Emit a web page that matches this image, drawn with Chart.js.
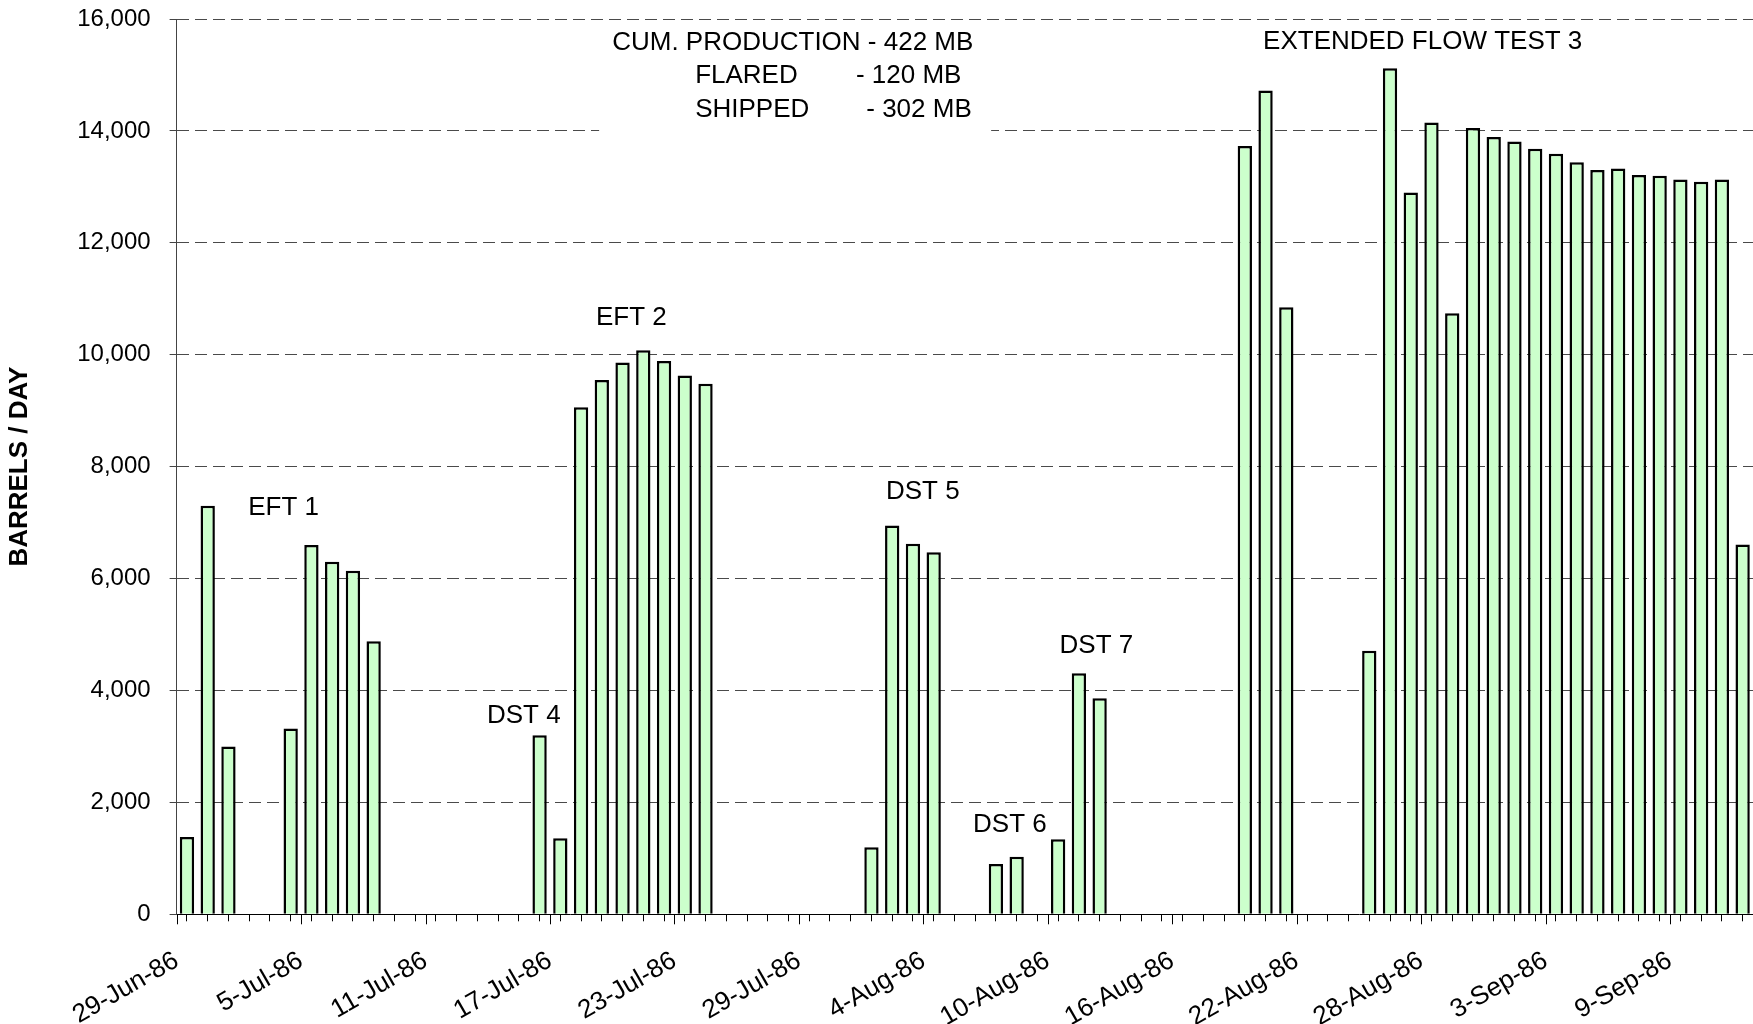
<!DOCTYPE html>
<html>
<head>
<meta charset="utf-8">
<script src="https://cdn.jsdelivr.net/npm/chart.js@4.4.1/dist/chart.umd.min.js"></script>
<style>
  html, body { margin: 0; padding: 0; background: #fff; }
  #wrap { width: 1753px; height: 1024px; }
</style>
</head>
<body>
<div id="wrap"><canvas id="c" width="1753" height="1024"></canvas></div>
<script>
// ---- data ----
const dates = [
  '29-Jun-86','30-Jun-86',
  '1-Jul-86','2-Jul-86','3-Jul-86','4-Jul-86','5-Jul-86','6-Jul-86','7-Jul-86','8-Jul-86','9-Jul-86','10-Jul-86',
  '11-Jul-86','12-Jul-86','13-Jul-86','14-Jul-86','15-Jul-86','16-Jul-86','17-Jul-86','18-Jul-86','19-Jul-86','20-Jul-86',
  '21-Jul-86','22-Jul-86','23-Jul-86','24-Jul-86','25-Jul-86','26-Jul-86','27-Jul-86','28-Jul-86','29-Jul-86','30-Jul-86','31-Jul-86',
  '1-Aug-86','2-Aug-86','3-Aug-86','4-Aug-86','5-Aug-86','6-Aug-86','7-Aug-86','8-Aug-86','9-Aug-86','10-Aug-86',
  '11-Aug-86','12-Aug-86','13-Aug-86','14-Aug-86','15-Aug-86','16-Aug-86','17-Aug-86','18-Aug-86','19-Aug-86','20-Aug-86',
  '21-Aug-86','22-Aug-86','23-Aug-86','24-Aug-86','25-Aug-86','26-Aug-86','27-Aug-86','28-Aug-86','29-Aug-86','30-Aug-86','31-Aug-86',
  '1-Sep-86','2-Sep-86','3-Sep-86','4-Sep-86','5-Sep-86','6-Sep-86','7-Sep-86','8-Sep-86','9-Sep-86','10-Sep-86','11-Sep-86','12-Sep-86'
];
// one value per day, same line layout as the dates above (null = no production)
const barrels = [
  1380, 7300,
  3000, null, null, 3320, 6600, 6300, 6140, 4880, null, null,
  null, null, null, null, null, 3200, 1360, 9060, 9550, 9860,
  10080, 9890, 9630, 9480, null, null, null, null, null, null, null,
  1200, 6950, 6620, 6470, null, null, 900, 1030, null, 1340,
  4310, 3860, null, null, null, null, null, null, 13730, 14720,
  10850, null, null, null, 4710, 15120, 12900, 14150, 10740, 14050, 13890,
  13810, 13680, 13590, 13440, 13300, 13330, 13210, 13200, 13130, 13090, 13130, 6610
];
const tickEvery = 6;
const yTickValues = [0, 2000, 4000, 6000, 8000, 10000, 12000, 14000, 16000];
const axisTitle = 'BARRELS / DAY';

// text notes placed in data units (category position, barrels/day)
const notes = [
  { text: 'EFT 1', x: 3.45, y: 7260 },
  { text: 'DST 4', x: 14.96, y: 3540 },
  { text: 'EFT 2', x: 20.22, y: 10660 },
  { text: 'DST 5', x: 34.2, y: 7550 },
  { text: 'DST 6', x: 38.4, y: 1600 },
  { text: 'DST 7', x: 42.57, y: 4800 },
  { text: 'EXTENDED FLOW TEST 3', x: 52.38, y: 15590 },
  { text: 'CUM. PRODUCTION - 422 MB', x: 21.0, y: 15580 },
  { text: 'FLARED', x: 25.0, y: 14990 },
  { text: '- 120 MB', x: 32.75, y: 14990 },
  { text: 'SHIPPED', x: 25.0, y: 14370 },
  { text: '- 302 MB', x: 33.25, y: 14370 }
];
const noteBox = { x0: 20.37, x1: 39.27, y0: 15910, y1: 13880 };

// ---- chart ----
const FONT = '"Liberation Sans", Arial, Helvetica, sans-serif';
Chart.defaults.font.family = FONT;
Chart.defaults.color = '#000';

const nDays = dates.length;

const notesPlugin = {
  id: 'notes',
  afterDraw(chart) {
    const { ctx, scales: { x, y } } = chart;
    ctx.save();
    const bx0 = x.getPixelForValue(noteBox.x0), bx1 = x.getPixelForValue(noteBox.x1);
    const by0 = y.getPixelForValue(noteBox.y0), by1 = y.getPixelForValue(noteBox.y1);
    ctx.fillStyle = '#fff';
    ctx.fillRect(bx0, by0, bx1 - bx0, by1 - by0);
    ctx.fillStyle = '#000';
    ctx.font = '26px ' + FONT;
    ctx.textAlign = 'left';
    ctx.textBaseline = 'middle';
    notes.forEach(n => ctx.fillText(n.text, x.getPixelForValue(n.x), y.getPixelForValue(n.y)));
    ctx.strokeStyle = '#000';
    ctx.lineWidth = 1;
    for (let i = 0; i < nDays; i += tickEvery) {
      const px = Math.round(x.getPixelForValue(i)) + 0.5;
      ctx.beginPath();
      ctx.moveTo(px, x.top);
      ctx.lineTo(px, x.top + 10);
      ctx.stroke();
    }
    ctx.restore();
  }
};

new Chart(document.getElementById('c'), {
  type: 'bar',
  data: {
    datasets: [{
      data: barrels.map((v, i) => ({ x: i + 0.5, y: v })),
      backgroundColor: '#CCFFCC',
      borderColor: '#000',
      borderWidth: 2.5,
      barPercentage: 0.69,
      categoryPercentage: 1
    }]
  },
  options: {
    responsive: false,
    animation: false,
    devicePixelRatio: 1,
    layout: { padding: { top: 19, left: 0, right: 0, bottom: 0 } },
    plugins: { legend: { display: false }, tooltip: { enabled: false } },
    scales: {
      x: {
        type: 'linear',
        min: 0,
        max: nDays,
        offset: false,
        ticks: {
          stepSize: 1,
          autoSkip: false,
          maxTicksLimit: 1000,
          minRotation: 30,
          maxRotation: 30,
          padding: 24,
          font: { size: 26 },
          color: '#000',
          callback: (v) => (v % tickEvery === 0 && dates[v]) ? dates[v] : ''
        },
        grid: { drawOnChartArea: false, drawTicks: true, tickLength: 7, tickColor: '#000', color: '#000' },
        border: { display: true, color: '#000', width: 1 },
        afterFit: (s) => { s.height = 109.7; s.paddingLeft = 0; s.paddingRight = 0; }
      },
      y: {
        min: 0,
        max: 16000,
        afterBuildTicks: (s) => { s.ticks = yTickValues.map(v => ({ value: v })); },
        ticks: { padding: 19, font: { size: 24 }, color: '#000' },
        grid: { color: '#4a4a4a', lineWidth: 1, tickLength: 7, tickColor: '#444' },
        border: { display: true, color: '#444', width: 1, dash: [12, 6] },
        title: {
          display: true, text: axisTitle, color: '#000',
          font: { size: 26, weight: 'bold' },
          padding: { top: 4, bottom: 0 }
        },
        afterFit: (s) => { s.width = 176.6; s.paddingTop = 0; s.paddingBottom = 0; }
      }
    }
  },
  plugins: [notesPlugin]
});
</script>
</body>
</html>
